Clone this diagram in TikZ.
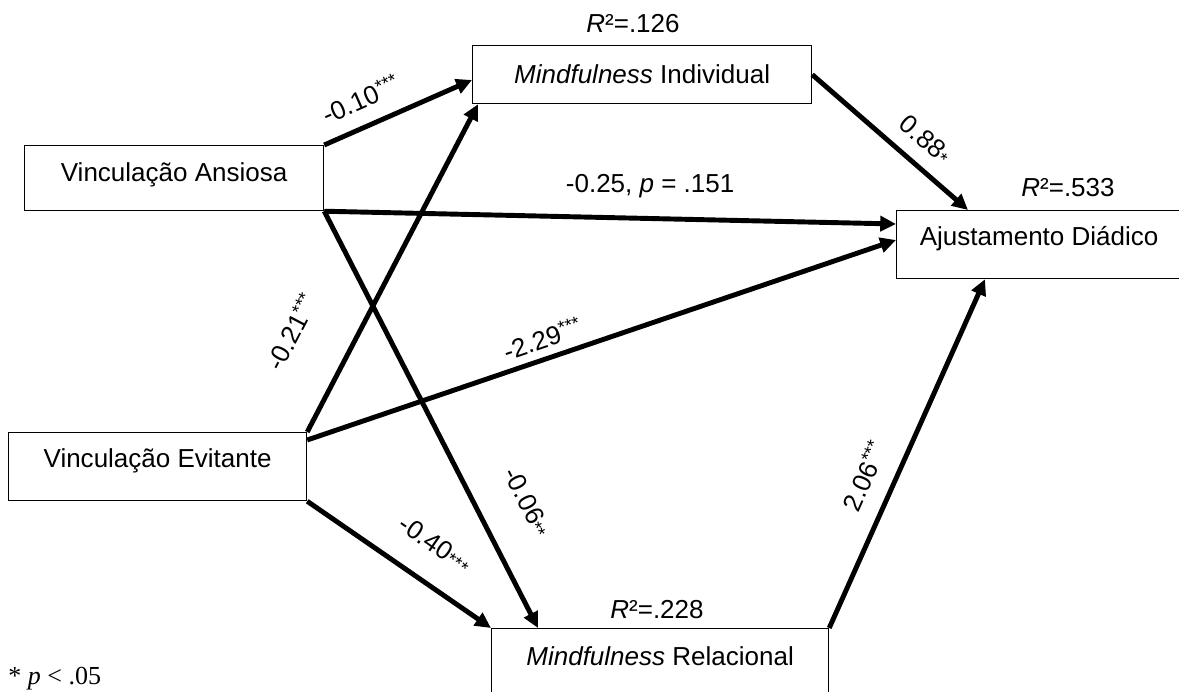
\documentclass[tikz,border=0pt]{standalone}
\usepackage{fontspec}
\setmainfont{Liberation Sans}
\newfontfamily\notefont{Liberation Serif}
\usetikzlibrary{positioning, calc, arrows.meta}

% significance stars, raised or low
\newcommand{\sighi}[1]{\raisebox{0.3em}{\fontsize{10.5}{12}\selectfont #1}}
\newcommand{\siglo}[1]{\raisebox{-0.05em}{\fontsize{10.5}{12}\selectfont #1}}

\begin{document}
\begin{tikzpicture}[
    box/.style={draw, line width=0.7pt, inner sep=0pt, anchor=north west,
        font=\fontsize{14.8}{17}\selectfont},
    effect/.style={line width=2.8pt, -{Triangle[length=9pt,width=8.5pt]}},
    coef/.style={inner sep=0pt, font=\fontsize{14.8}{17}\selectfont},
  ]

    % Page frame (1 px of the original = 0.2 mm)
    \useasboundingbox (0,0) rectangle (23.58,13.82);
    \clip (0,0) rectangle (23.58,13.82);

    % --- VARIABLES ---
    \node[box, minimum width=5.98cm, text height=0.72cm, text depth=0.58cm]
        (va) at (0.48,10.92) {Vinculação Ansiosa};
    \node[box, minimum width=5.96cm, text height=0.70cm, text depth=0.66cm]
        (ve) at (0.16,5.18) {Vinculação Evitante};
    \node[box, minimum width=6.78cm, text height=0.76cm, text depth=0.40cm]
        (mi) at (9.44,12.92) {\textit{Mindfulness} Individual};
    \node[box, minimum width=5.70cm, text height=0.70cm, text depth=0.66cm]
        (ad) at (17.92,9.62) {Ajustamento Diádico};
    \node[box, minimum width=6.74cm, text height=0.74cm, text depth=0.80cm]
        (mr) at (9.82,1.26) {\textit{Mindfulness} Relacional};

    % Explained variance
    \node[coef, anchor=base] (r2mi) at (12.66,13.16) {\textit{R}²=.126};
    \node[coef, anchor=base] (r2ad) at (21.36,9.88) {\textit{R}²=.533};
    \node[coef, anchor=base] (r2mr) at (13.14,1.46) {\textit{R}²=.228};

    % --- PATHS TO THE MEDIATORS ---
    \draw[effect] (va.north east) -- ([yshift=-0.7cm]mi.north west)
        node[coef, sloped, above=0.29cm, pos=0.32] {-0.10\sighi{***}};
    \draw[effect] (ve.north east) -- ([xshift=0.12cm]mi.south west)
        node[coef, sloped, above=0.95cm, pos=0.22] {-0.21\sighi{***}};
    \draw[effect] (va.south east) -- ([xshift=0.94cm]mr.north west)
        node[coef, sloped, above=0.71cm, pos=0.75] {-0.06\siglo{**}};
    \draw[effect] (ve.south east) -- (mr.north west)
        node[coef, sloped, above=0.5cm, pos=0.58] {-0.40\siglo{***}};

    % --- PATHS TO THE OUTCOME ---
    \draw[effect] (va.south east) -- ([yshift=-0.28cm]ad.north west)
        node[coef, above=0.37cm, pos=0.57] {-0.25, \textit{p} = .151};
    \draw[effect] ([yshift=-0.16cm]ve.north east) -- ([yshift=-0.6cm]ad.north west)
        node[coef, sloped, above=0.15cm, pos=0.41] {-2.29\sighi{***}};
    \draw[effect] (mi.east) -- ([xshift=1.44cm]ad.north west)
        node[coef, sloped, above=0.26cm, pos=0.62] {0.88\siglo{*}};
    \draw[effect] (mr.north east) -- ([xshift=1.78cm]ad.south west)
        node[coef, sloped, above=0.35cm, pos=0.4] {2.06\sighi{***}};

    % Significance note
    \node[coef, anchor=base west, font=\notefont\fontsize{14.8}{17}\selectfont]
        (note) at (0.16,0.14) {* \textit{p} < .05};

\end{tikzpicture}
\end{document}
